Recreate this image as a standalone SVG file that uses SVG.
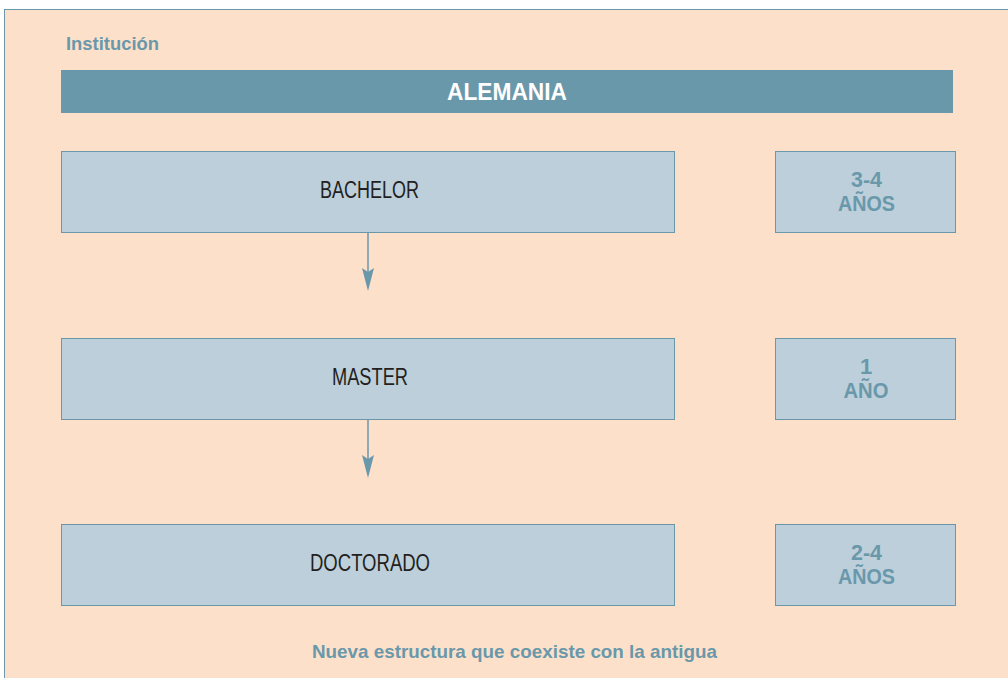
<svg xmlns="http://www.w3.org/2000/svg" width="1008" height="678" viewBox="0 0 1008 678">
<style>
.box{fill:#bccfda;stroke:#6a98ab;stroke-width:1}
.lbl{font-family:"Liberation Sans",Arial,sans-serif;font-size:23px;fill:#231f20;text-anchor:middle}
.dur{font-family:"Liberation Sans",Arial,sans-serif;font-size:22px;font-weight:bold;fill:#6a98ab;text-anchor:middle}
.conn{stroke:#6a98ab;stroke-width:1.5;fill:none}
.head{fill:#6a98ab}
</style>
<rect x="4.5" y="9.5" width="1010" height="680" fill="#fde0c9" stroke="#6a98ab" stroke-width="1"/>
<g id="title">
<text x="66" y="50" font-family="Liberation Sans,Arial,sans-serif" font-size="18" font-weight="bold" fill="#6a98ab" textLength="93" lengthAdjust="spacingAndGlyphs">Institución</text>
</g>
<g id="header">
<rect x="61" y="70" width="892" height="43" fill="#6a98ab"/>
<text x="507" y="100" font-family="Liberation Sans,Arial,sans-serif" font-size="23" font-weight="bold" fill="#ffffff" text-anchor="middle" textLength="120" lengthAdjust="spacingAndGlyphs">ALEMANIA</text>
</g>
<g id="bachelor">
<rect class="box" x="61.5" y="151.5" width="613" height="81"/>
<text class="lbl" x="369.5" y="198" textLength="99" lengthAdjust="spacingAndGlyphs">BACHELOR</text>
</g>
<g id="bachelor-dur">
<rect class="box" x="775.5" y="151.5" width="180" height="81"/>
<text class="dur" x="866.5" y="187" textLength="31" lengthAdjust="spacingAndGlyphs">3-4</text>
<text class="dur" x="866.5" y="211" textLength="57" lengthAdjust="spacingAndGlyphs">AÑOS</text>
</g>
<g id="master">
<rect class="box" x="61.5" y="338.5" width="613" height="81"/>
<text class="lbl" x="370" y="385" textLength="76" lengthAdjust="spacingAndGlyphs">MASTER</text>
</g>
<g id="master-dur">
<rect class="box" x="775.5" y="338.5" width="180" height="81"/>
<text class="dur" x="866" y="374">1</text>
<text class="dur" x="866" y="398" textLength="45" lengthAdjust="spacingAndGlyphs">AÑO</text>
</g>
<g id="doctorado">
<rect class="box" x="61.5" y="524.5" width="613" height="81"/>
<text class="lbl" x="370" y="571" textLength="120" lengthAdjust="spacingAndGlyphs">DOCTORADO</text>
</g>
<g id="doctorado-dur">
<rect class="box" x="775.5" y="524.5" width="180" height="81"/>
<text class="dur" x="866.5" y="560" textLength="31" lengthAdjust="spacingAndGlyphs">2-4</text>
<text class="dur" x="866.5" y="584" textLength="57" lengthAdjust="spacingAndGlyphs">AÑOS</text>
</g>
<g id="connectors">
<line x1="368" y1="232" x2="368" y2="286" class="conn"/>
<path class="head" d="M362,268 L368,272 L374,268 L368,291 Z"/>
<line x1="368" y1="419" x2="368" y2="472" class="conn"/>
<path class="head" d="M362,455 L368,459 L374,455 L368,478 Z"/>
</g>
<g id="footer">
<text x="514.5" y="658" font-family="Liberation Sans,Arial,sans-serif" font-size="19" font-weight="bold" fill="#6a98ab" text-anchor="middle" textLength="405" lengthAdjust="spacingAndGlyphs">Nueva estructura que coexiste con la antigua</text>
</g>
</svg>
